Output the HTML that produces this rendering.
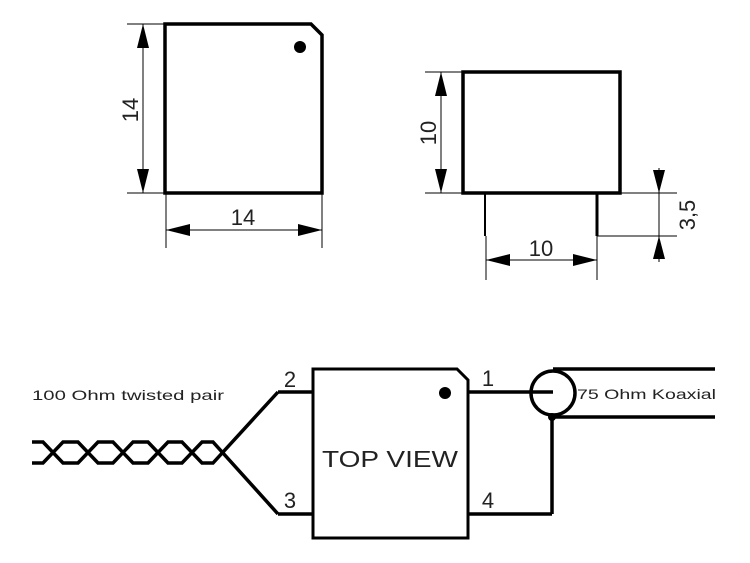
<!DOCTYPE html>
<html><head><meta charset="utf-8"><style>
html,body{margin:0;padding:0;background:#fff;}
svg{display:block;}
text{font-family:"Liberation Sans",sans-serif;fill:#222;font-weight:normal;}
</style></head><body>
<svg width="750" height="563" viewBox="0 0 750 563" xmlns="http://www.w3.org/2000/svg">
<g fill="none" stroke="#000" stroke-linejoin="miter">
<path d="M165,24 H311 L322,35 V193 H165 Z" stroke-width="3.5"/>
<g stroke-width="1">
<line x1="127" y1="24" x2="165" y2="24"/>
<line x1="127" y1="193" x2="165" y2="193"/>
<line x1="143" y1="24" x2="143" y2="193"/>
<line x1="166" y1="193" x2="166" y2="248"/>
<line x1="322" y1="193" x2="322" y2="248"/>
<line x1="166" y1="230" x2="322" y2="230"/>
</g>
<rect x="463" y="72" width="157" height="121" stroke-width="3.5"/>
<line x1="485" y1="193" x2="485" y2="236" stroke-width="2"/>
<line x1="597" y1="193" x2="597" y2="236" stroke-width="3"/>
<g stroke-width="1">
<line x1="425" y1="72" x2="463" y2="72"/>
<line x1="425" y1="193" x2="463" y2="193"/>
<line x1="441" y1="72" x2="441" y2="193"/>
<line x1="486" y1="236" x2="486" y2="280"/>
<line x1="597" y1="236" x2="597" y2="280"/>
<line x1="486" y1="260" x2="597" y2="260"/>
<line x1="620" y1="193" x2="677" y2="193"/>
<line x1="597" y1="236" x2="677" y2="236"/>
<line x1="659" y1="168" x2="659" y2="262"/>
</g>
<path d="M313,369 H457 L468,380 V538 H313 Z" stroke-width="3"/>
<g stroke-width="3.5">
<line x1="278" y1="392" x2="313" y2="392"/>
<line x1="278" y1="514" x2="313" y2="514"/>
<polyline points="32,442 43,442 63,463 78,463 98,442 113,442 133,463 148,463 168,442 182,442 202,463 213,463 278,392"/>
<polyline points="32,463 43,463 63,442 78,442 98,463 113,463 133,442 148,442 168,463 182,463 202,442 213,442 278,514"/>
<line x1="468" y1="392" x2="553" y2="392"/>
<line x1="468" y1="514" x2="552" y2="514"/>
<line x1="552" y1="417" x2="552" y2="514"/>
<line x1="553" y1="369" x2="715" y2="369"/>
<line x1="553" y1="417" x2="715" y2="417"/>
<circle cx="553" cy="393" r="22"/>
</g>
</g>
<g fill="#000">
<circle cx="300" cy="47" r="6"/>
<circle cx="445" cy="393" r="6"/>
<circle cx="552" cy="417" r="4"/>
<polygon points="143,24 137,48 149,48"/>
<polygon points="143,193 137,169 149,169"/>
<polygon points="166,230 190,224 190,236"/>
<polygon points="322,230 298,224 298,236"/>
<polygon points="441,72 435,96 447,96"/>
<polygon points="441,193 435,169 447,169"/>
<polygon points="486,260 510,254 510,266"/>
<polygon points="597,260 573,254 573,266"/>
<polygon points="659,193 653,170 665,170"/>
<polygon points="659,236 653,259 665,259"/>
</g>
<g font-size="22">
<text x="0" y="0" transform="translate(138,110) rotate(-90)" text-anchor="middle">14</text>
<text x="243" y="225" text-anchor="middle">14</text>
<text x="0" y="0" transform="translate(436,133) rotate(-90)" text-anchor="middle">10</text>
<text x="541" y="256" text-anchor="middle">10</text>
<text x="0" y="0" transform="translate(695,215) rotate(-90)" text-anchor="middle">3,5</text>
<text x="322" y="467" font-size="23" textLength="136" lengthAdjust="spacingAndGlyphs">TOP  VIEW</text>
<text x="290" y="387" text-anchor="middle">2</text>
<text x="290" y="508" text-anchor="middle">3</text>
<text x="488" y="386" text-anchor="middle">1</text>
<text x="488" y="508" text-anchor="middle">4</text>
</g>
<text x="32" y="400" font-size="14" textLength="192" lengthAdjust="spacingAndGlyphs">100 Ohm twisted pair</text>
<text x="577" y="399" font-size="14" textLength="139" lengthAdjust="spacingAndGlyphs">75 Ohm Koaxial</text>
</svg>
</body></html>
